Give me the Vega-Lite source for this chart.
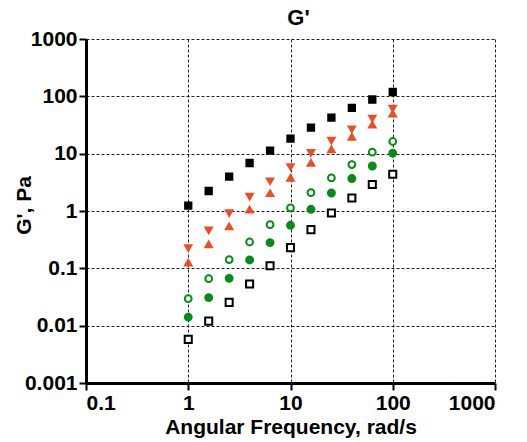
{
  "$schema": "https://vega.github.io/schema/vega-lite/v6.json",
  "width": 409,
  "height": 344,
  "autosize": "none",
  "padding": {"left": 86, "top": 39, "right": 32, "bottom": 59},
  "background": "white",
  "title": {"text": "G'", "fontSize": 22, "font": "Liberation Sans", "fontWeight": "bold", "color": "black", "offset": 12, "dx": 8, "dy": 14, "anchor": "middle"},
  "config": {
    "view": {"stroke": null},
    "axis": {
      "labelFont": "Liberation Sans", "labelFontWeight": "bold", "labelFontSize": 21, "labelColor": "black",
      "titleFont": "Liberation Sans", "titleFontWeight": "bold", "titleFontSize": 21, "titleColor": "black",
      "domainColor": "black", "domainWidth": 3, "tickColor": "black", "tickWidth": 2, "tickSize": 7,
      "gridColor": "#222", "gridDash": [3, 2], "gridWidth": 1, "labelPadding": 2
    }
  },
  "data": {"values": [
    {"w": 1, "g": 1.24, "s": "A"}, {"w": 1.585, "g": 2.23, "s": "A"}, {"w": 2.512, "g": 3.98, "s": "A"}, {"w": 3.981, "g": 6.88, "s": "A"}, {"w": 6.31, "g": 11.3, "s": "A"}, {"w": 10, "g": 18.3, "s": "A"}, {"w": 15.85, "g": 28.5, "s": "A"}, {"w": 25.12, "g": 42.6, "s": "A"}, {"w": 39.81, "g": 62.8, "s": "A"}, {"w": 63.1, "g": 88, "s": "A"}, {"w": 100, "g": 119, "s": "A"},
    {"w": 1, "g": 0.226, "s": "B"}, {"w": 1.585, "g": 0.46, "s": "B"}, {"w": 2.512, "g": 0.92, "s": "B"}, {"w": 3.981, "g": 1.78, "s": "B"}, {"w": 6.31, "g": 3.3, "s": "B"}, {"w": 10, "g": 5.86, "s": "B"}, {"w": 15.85, "g": 10.3, "s": "B"}, {"w": 25.12, "g": 16.9, "s": "B"}, {"w": 39.81, "g": 26.7, "s": "B"}, {"w": 63.1, "g": 41, "s": "B"}, {"w": 100, "g": 61, "s": "B"},
    {"w": 1, "g": 0.126, "s": "C"}, {"w": 1.585, "g": 0.262, "s": "C"}, {"w": 2.512, "g": 0.54, "s": "C"}, {"w": 3.981, "g": 1.06, "s": "C"}, {"w": 6.31, "g": 2.04, "s": "C"}, {"w": 10, "g": 3.77, "s": "C"}, {"w": 15.85, "g": 6.9, "s": "C"}, {"w": 25.12, "g": 11.9, "s": "C"}, {"w": 39.81, "g": 19.6, "s": "C"}, {"w": 63.1, "g": 32.2, "s": "C"}, {"w": 100, "g": 50, "s": "C"},
    {"w": 1, "g": 0.0296, "s": "D"}, {"w": 1.585, "g": 0.066, "s": "D"}, {"w": 2.512, "g": 0.142, "s": "D"}, {"w": 3.981, "g": 0.288, "s": "D"}, {"w": 6.31, "g": 0.578, "s": "D"}, {"w": 10, "g": 1.13, "s": "D"}, {"w": 15.85, "g": 2.09, "s": "D"}, {"w": 25.12, "g": 3.77, "s": "D"}, {"w": 39.81, "g": 6.45, "s": "D"}, {"w": 63.1, "g": 10.6, "s": "D"}, {"w": 100, "g": 16.3, "s": "D"},
    {"w": 1, "g": 0.0141, "s": "E"}, {"w": 1.585, "g": 0.0308, "s": "E"}, {"w": 2.512, "g": 0.0669, "s": "E"}, {"w": 3.981, "g": 0.14, "s": "E"}, {"w": 6.31, "g": 0.281, "s": "E"}, {"w": 10, "g": 0.563, "s": "E"}, {"w": 15.85, "g": 1.07, "s": "E"}, {"w": 25.12, "g": 2.06, "s": "E"}, {"w": 39.81, "g": 3.68, "s": "E"}, {"w": 63.1, "g": 6.1, "s": "E"}, {"w": 100, "g": 10.2, "s": "E"},
    {"w": 1, "g": 0.00577, "s": "F"}, {"w": 1.585, "g": 0.012, "s": "F"}, {"w": 2.512, "g": 0.0255, "s": "F"}, {"w": 3.981, "g": 0.0532, "s": "F"}, {"w": 6.31, "g": 0.111, "s": "F"}, {"w": 10, "g": 0.23, "s": "F"}, {"w": 15.85, "g": 0.473, "s": "F"}, {"w": 25.12, "g": 0.92, "s": "F"}, {"w": 39.81, "g": 1.69, "s": "F"}, {"w": 63.1, "g": 2.89, "s": "F"}, {"w": 100, "g": 4.37, "s": "F"}
  ]},
  "mark": {"type": "point", "opacity": 1, "strokeWidth": 2},
  "encoding": {
    "x": {"field": "w", "type": "quantitative", "scale": {"type": "log", "domain": [0.1, 1000]},
      "axis": {"title": "Angular Frequency, rad/s", "values": [0.1, 1, 10, 100, 1000], "format": "~g", "titlePadding": 3}},
    "y": {"field": "g", "type": "quantitative", "scale": {"type": "log", "domain": [0.001, 1000]},
      "axis": {"title": "G', Pa", "values": [0.001, 0.01, 0.1, 1, 10, 100, 1000], "format": "~g", "titleX": -62, "titleY": 166, "titleBaseline": "middle"}},
    "shape": {"field": "s", "type": "nominal", "legend": null,
      "scale": {"domain": ["A", "B", "C", "D", "E", "F"], "range": ["square", "triangle-down", "triangle-up", "circle", "circle", "square"]}},
    "stroke": {"field": "s", "type": "nominal", "legend": null,
      "scale": {"domain": ["A", "B", "C", "D", "E", "F"], "range": ["black", "#E4502A", "#E4502A", "#0A8A1A", "#0A8A1A", "black"]}},
    "fill": {"field": "s", "type": "nominal", "legend": null,
      "scale": {"domain": ["A", "B", "C", "D", "E", "F"], "range": ["black", "#E4502A", "#E4502A", "white", "#0A8A1A", "white"]}},
    "size": {"field": "s", "type": "nominal", "legend": null,
      "scale": {"domain": ["A", "B", "C", "D", "E", "F"], "range": [40, 50, 50, 34, 36, 30]}}
  }
}
